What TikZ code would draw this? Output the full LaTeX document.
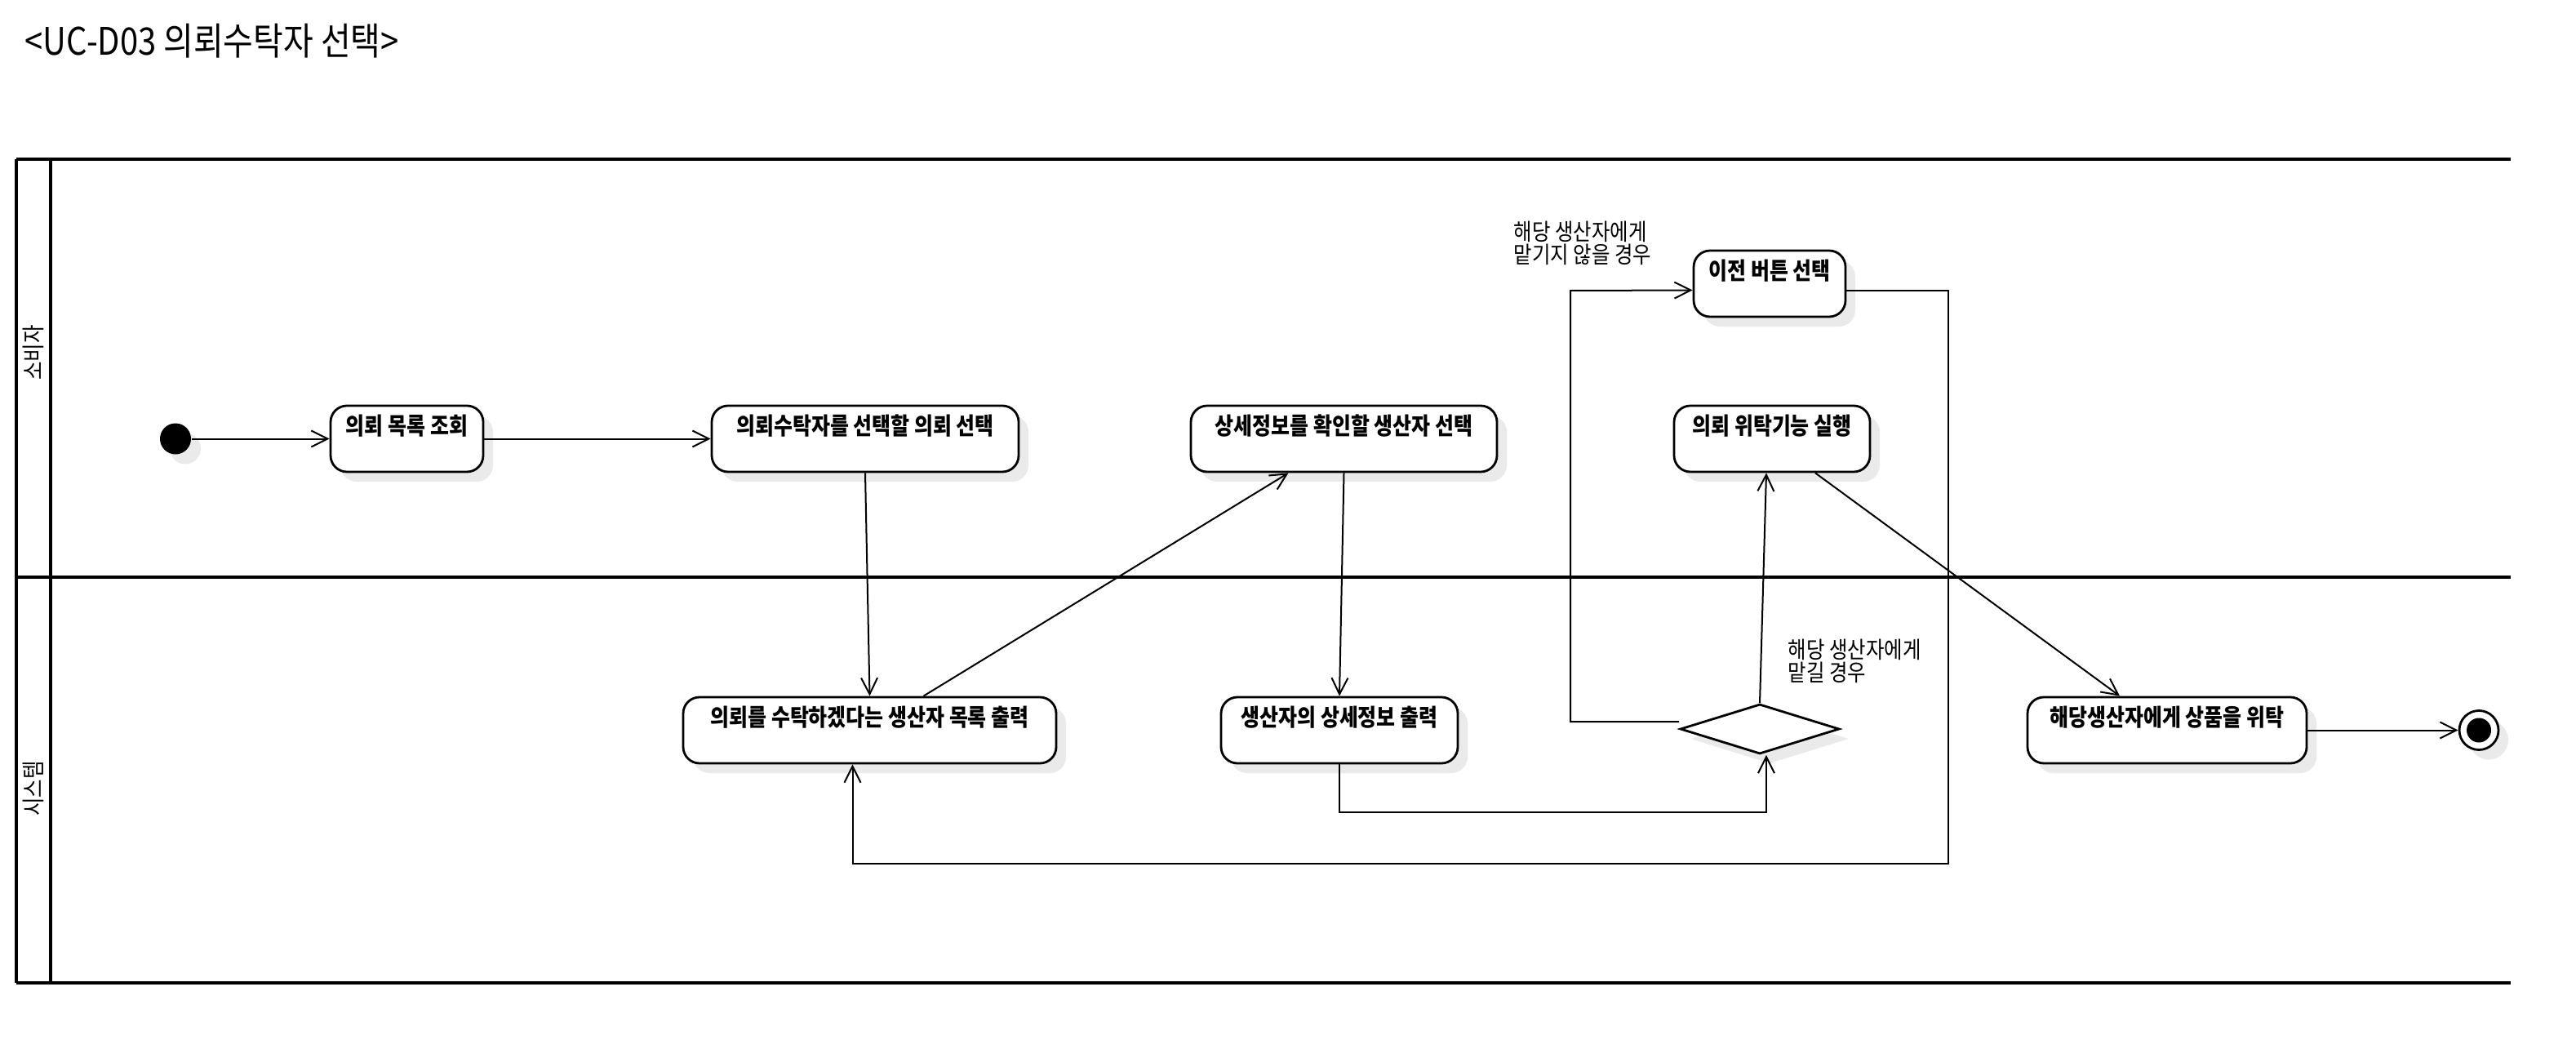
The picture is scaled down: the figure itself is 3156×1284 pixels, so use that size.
\documentclass[tikz,border=0pt]{standalone}
\usepackage{fontspec}
\setmainfont{Noto Sans CJK KR}[FakeStretch=0.86]
\usetikzlibrary{arrows.meta,calc,shapes.geometric,shadows}
\definecolor{shadowc}{RGB}{234,234,234}
\begin{document}
\begin{tikzpicture}[x=0.25pt,y=-0.25pt,
  lane/.style={line width=1.1pt},
  shd/.style={drop shadow={shadow xshift=3pt,shadow yshift=-3pt,fill=shadowc,opacity=1}},
  act/.style={draw, line width=0.7pt, rounded corners=5pt, fill=white, shd,
    inner xsep=0pt, inner ysep=0pt, text height=8.8pt, text depth=11.45pt,
    minimum height=20.25pt, font=\fontsize{7.25pt}{8pt}\selectfont\bfseries},
  dec/.style={diamond, draw, line width=0.7pt, fill=white, shd, inner sep=0pt,
    minimum width=48.75pt, minimum height=15.25pt},
  startnode/.style={circle, fill=black, inner sep=0pt, minimum size=9.5pt, shd},
  endnode/.style={circle, draw, line width=0.7pt, fill=white, inner sep=0pt, minimum size=12pt, shd},
  enddot/.style={circle, fill=black, inner sep=0pt, minimum size=7.5pt},
  arr/.style={-{Straight Barb[length=5pt,width=5pt]}, line width=0.5pt},
  cond/.style={inner sep=0pt, align=left, font=\fontsize{7.1pt}{7pt}\selectfont},
  lanelbl/.style={inner sep=0pt, rotate=90, font=\fontsize{7.1pt}{7pt}\selectfont},
  ttl/.style={inner sep=0pt, anchor=west, font=\fontsize{11.6pt}{13pt}\selectfont}
]
\useasboundingbox (0,0) rectangle (3156,1284);

% title
\node[ttl] (title) at (30,50) {<UC-D03 의뢰수탁자 선택>};

% swimlane frame
\draw[lane] (20,195) -- (3076,195);
\draw[lane] (20,707) -- (3076,707);
\draw[lane] (20,1204) -- (3076,1204);
\draw[lane] (20,195) -- (20,1204);
\draw[lane] (62,195) -- (62,1204);
\node[lanelbl] (lane1) at (41,432) {소비자};
\node[lanelbl] (lane2) at (41,966) {시스템};

% nodes
\node[startnode] (init) at (215,537.5) {};
\node[act, minimum width=46.75pt] (b1) at (498.5,537.5) {의뢰 목록 조회};
\node[act, minimum width=94pt] (b3) at (1060,537.5) {의뢰수탁자를 선택할 의뢰 선택};
\node[act, minimum width=93.75pt] (b4) at (1646.5,537.5) {상세정보를 확인할 생산자 선택};
\node[act, minimum width=46.5pt] (b5) at (2168,347.5) {이전 버튼 선택};
\node[act, minimum width=60pt] (b6) at (2171,537.5) {의뢰 위탁기능 실행};
\node[act, minimum width=114.25pt] (b7) at (1065.5,894.5) {의뢰를 수탁하겠다는 생산자 목록 출력};
\node[act, minimum width=72.5pt] (b8) at (1641,894.5) {생산자의 상세정보 출력};
\node[dec] (dia) at (2156,893) {};
\node[act, minimum width=85.5pt] (b10) at (2655,894.5) {해당생산자에게 상품을 위탁};
\node[endnode] (fin) at (3037,894.5) {};
\node[enddot] (findot) at (fin.center) {};

% guard labels
\node[cond, anchor=west] (g1) at (1854,298) {해당 생산자에게\\맡기지 않을 경우};
\node[cond, anchor=west] (g2) at (2190,810) {해당 생산자에게\\맡길 경우};

% connectors
\draw[arr] (init) -- (b1);
\draw[arr] (b1) -- (b3);
\draw[arr] (b3.south) -- (b7.north);
\draw[arr] ($(b7.north)+(66,0)$) -- ($(b4.south)+(-68,0)$);
\draw[arr] (b4.south) -- (b8.north);
\coordinate (j1) at (2164,995);
\draw[arr] (b8.south) |- (j1) -- (dia.south -| j1);
\draw[arr] (dia.north) -- ($(b6.south)+(-7,0)$);
\coordinate (j2) at (1924,356);
\draw[arr] ($(dia.west)+(0,-9)$) -| (j2) -- ($(b5.west)+(0,8)$);
\coordinate (j3) at (2387,1058);
\draw[arr] ($(b5.east)+(0,8)$) -| (j3) -| ($(b7.south)+(-21,0)$);
\draw[arr] ($(b6.south)+(53,0)$) -- ($(b10.north)+(-58,0)$);
\draw[arr] (b10) -- (fin);
\end{tikzpicture}
\end{document}
